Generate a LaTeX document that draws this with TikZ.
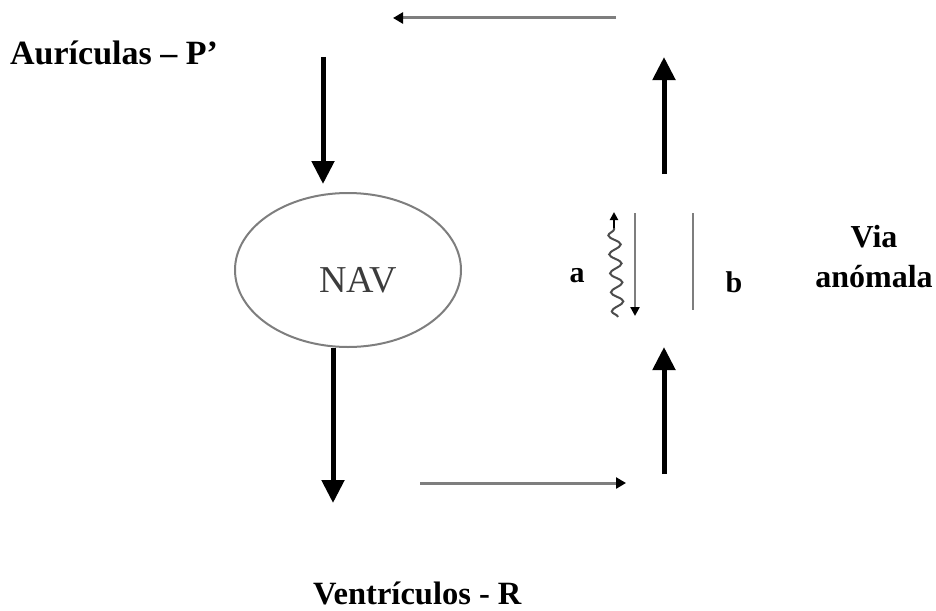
\documentclass[tikz,border=0pt]{standalone}
\usepackage{fontspec}
\setmainfont{Liberation Serif}
\usetikzlibrary{arrows.meta,decorations.pathmorphing,shapes.geometric}
\definecolor{linegray}{HTML}{7E7E7E}
\definecolor{navtext}{HTML}{3C3C3C}
\tikzset{
  label/.style={font=\fontsize{34}{38}\selectfont\bfseries, inner sep=0pt, align=center},
  letter/.style={font=\fontsize{30}{32}\selectfont\bfseries, inner sep=0pt},
  bigarrow/.style={line width=5pt, -{Triangle[width=22pt,length=23pt]}},
  thinarrow/.style={line width=3pt, draw=linegray, -{Triangle[width=11pt,length=10pt,color=black]}},
  pathline/.style={line width=2.6pt, draw=linegray},
}
\begin{document}
\begin{tikzpicture}[x=1pt,y=-1pt]
\useasboundingbox (0,0) rectangle (936,610);

% labels
\node[label, anchor=base west] (aur) at (10,64) {Aurículas – P’};
\node[label, anchor=base west, font=\fontsize{32.5}{36}\selectfont\bfseries] (ven) at (313,604) {Ventrículos - R};
\node[label, font=\fontsize{32}{36}\selectfont\bfseries] (via) at (874,237) {Via};
\node[label, font=\fontsize{32}{36}\selectfont\bfseries] (anom) at (874,277) {anómala};
\node[letter] (la) at (577,276) {a};
\node[letter] (lb) at (734,282) {b};

% AV node
\node[ellipse, draw=linegray, line width=2pt, minimum width=226pt, minimum height=154pt, inner sep=0pt] (nav) at (348,270) {};
\node[font=\fontsize{38}{40}\selectfont, text=navtext, inner sep=0pt] (navtxt) at (358,280) {NAV};

% free ends of the connectors
\coordinate (t1) at (616,18);
\coordinate (t2) at (393,18);
\coordinate (d1s) at (323,57);
\coordinate (d1e) at (323,184);
\coordinate (d2e) at (333,503);
\coordinate (b1) at (420,483);
\coordinate (b2) at (626,483);
\coordinate (u1s) at (664,474);
\coordinate (u1e) at (664,347);
\coordinate (u2s) at (664,174);
\coordinate (u2e) at (664,57);
\coordinate (as) at (635,213);
\coordinate (ae) at (635,316);
\coordinate (bs) at (693,213);
\coordinate (be) at (693,310);
\coordinate (ws) at (618,317);
\coordinate (wm) at (614,228);
\coordinate (we) at (614,212);

% thick conduction arrows
\draw[bigarrow] (d1s) -- (d1e);
\draw[bigarrow] (nav.south -| d2e) -- (d2e);
\draw[bigarrow] (u1s) -- (u1e);
\draw[bigarrow] (u2s) -- (u2e);

% thin return arrows
\draw[thinarrow] (t1) -- (t2);
\draw[thinarrow] (b1) -- (b2);

% accessory pathway limbs
\draw[thinarrow, line width=2.4pt, -{Triangle[width=9pt,length=9pt,color=black]}] (as) -- (ae);
\draw[pathline] (bs) -- (be);

% wavy block in limb a
\draw[draw=black!70, line width=2pt,
      decorate, decoration={snake, amplitude=6pt, segment length=19pt}] (ws) -- (wm);
\draw[line width=2pt, -{Triangle[width=8pt,length=8pt]}] (wm) -- (we);
\end{tikzpicture}
\end{document}
